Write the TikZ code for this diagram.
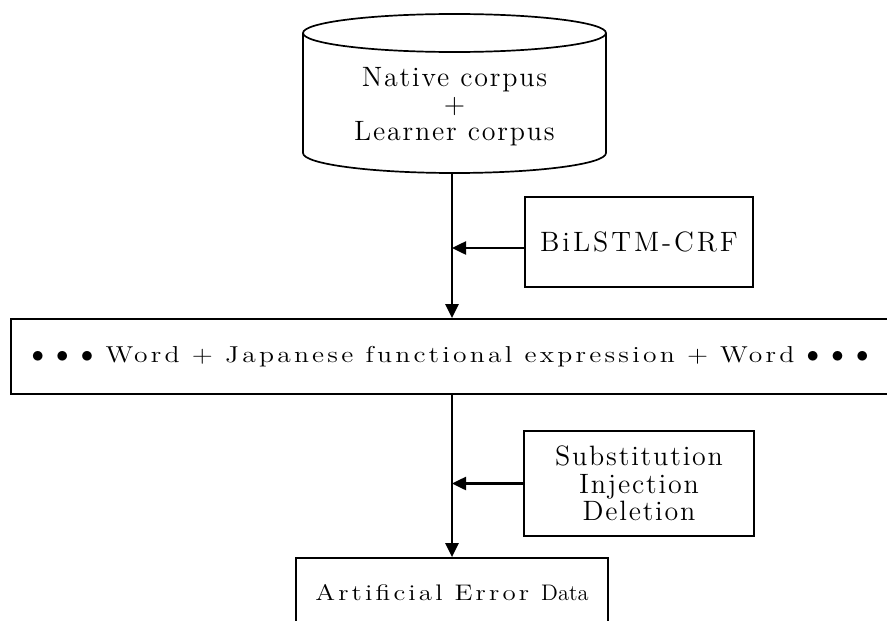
\documentclass[tikz,border=0pt]{standalone}
\usepackage{fontspec}
\usetikzlibrary{arrows.meta}

% letter-spaced Latin Modern, one family per spacing
\newfontfamily\lsnarrow{lmroman12-regular.otf}[LetterSpace=6.5]
\newfontfamily\lsmid{lmroman12-regular.otf}[LetterSpace=10.5]
\newfontfamily\lswide{lmroman12-regular.otf}[LetterSpace=14,FakeStretch=1.2]
\newfontfamily\lsnone{lmroman12-regular.otf}

\tikzset{
  box/.style={draw,line width=1.7pt,inner sep=0pt,align=center},
  flow/.style={line width=2.5pt,-{Triangle[length=14pt,width=13pt]}},
}

\begin{document}
\begin{tikzpicture}[x=1pt,y=-1pt]
      \useasboundingbox (0,0) rectangle (887,621);
      % corpus cylinder
      \draw[line width=1.7pt] (303,33) -- (303,153)
            arc[start angle=180,end angle=360,x radius=151.5pt,y radius=20pt] -- (606,33);
      \draw[line width=1.7pt] (454.5,33) ellipse[x radius=151.5pt,y radius=19pt];
      \node[align=center,font=\fontsize{28}{27}\lsnarrow] (corpus) at (454.5,107) {Native corpus\\+\\Learner corpus};
      \coordinate (corpusbottom) at (452,173);
      % boxes
      \node[box,font=\fontsize{28}{27}\lsmid,minimum width=228pt,minimum height=90pt] (bilstm) at (639,242) {BiLSTM-CRF};
      \node[box,font=\fontsize{23}{26}\lswide,minimum width=878pt,minimum height=75pt] (sentence) at (450,356.5)
            {$\bullet$ $\bullet$ $\bullet$ Word + Japanese functional expression + Word $\bullet$ $\bullet$ $\bullet$};
      \node[box,font=\fontsize{28}{27.5}\lsnarrow,minimum width=230pt,minimum height=105pt] (ops) at (639,483.5)
            {Substitution\\Injection\\Deletion};
      \node[box,font=\fontsize{22.5}{26}\lswide,minimum width=312pt,minimum height=70pt] (output) at (452,593)
            {Artificial Error {\lsnone Data}};
      % arrows
      \draw[flow] (corpusbottom) -- (sentence.north -| corpusbottom);
      \draw[flow] ([yshift=-6pt]bilstm.west) -- ([yshift=-6pt]bilstm.west -| corpusbottom);
      \draw[flow] (sentence.south -| corpusbottom) -- (output.north);
      \draw[flow] (ops.west) -- (ops.west -| corpusbottom);
\end{tikzpicture}
\end{document}
